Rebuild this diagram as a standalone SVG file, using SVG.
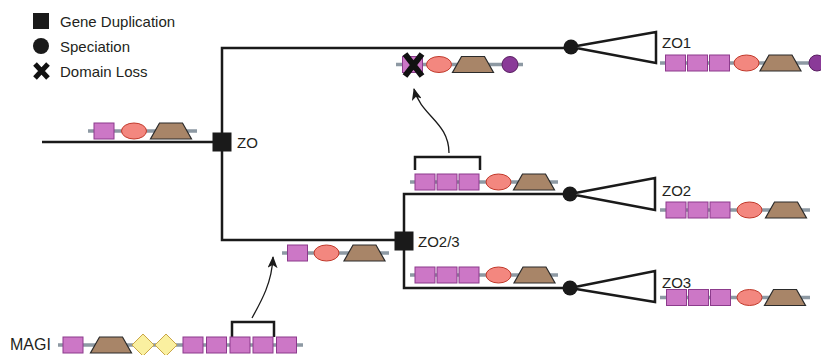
<svg xmlns="http://www.w3.org/2000/svg" xmlns:xlink="http://www.w3.org/1999/xlink" width="821" height="355" viewBox="0 0 821 355">
<style>
text{font-family:"Liberation Sans",Arial,sans-serif;font-size:15px;fill:#231f20}
.tree{fill:none;stroke:#1a1a1a;stroke-width:2.5}
.tri{fill:#fff;stroke:#1a1a1a;stroke-width:2.5;stroke-linejoin:miter}
.track{stroke:#8d99a3;stroke-width:3.5}
.brk{fill:none;stroke:#1a1a1a;stroke-width:2.5}
.arr{fill:none;stroke:#1a1a1a;stroke-width:1.3}
.xm{stroke:#111;stroke-width:5;stroke-linecap:butt}
</style>
<defs>
<rect id="dbox" x="-10" y="-8" width="20" height="16" fill="#cc77c6" stroke="#8c3b8c" stroke-width="1"/>
<ellipse id="dell" rx="12.5" ry="8" fill="#f3877f" stroke="#c0392b" stroke-width="1"/>
<polygon id="dtrap" points="-20.5,8 20.5,8 11.5,-8 -11.5,-8" fill="#a88568" stroke="#2b2b2b" stroke-width="1.2"/>
<circle id="dcirc" r="8" fill="#8a3a98" stroke="#5a1f62" stroke-width="1"/>
<polygon id="ddia" points="0,-11 11,0 0,11 -11,0" fill="#faf0a0" stroke="#c9a648" stroke-width="1"/>
<marker id="ah" viewBox="0 0 12 10" refX="11" refY="5" markerWidth="12" markerHeight="10" markerUnits="userSpaceOnUse" orient="auto">
<path d="M0,0 L12,5 L0,10 L3,5 Z" fill="#1a1a1a"/>
</marker>
</defs>

<g id="legend">
<rect x="33" y="13" width="16" height="16" fill="#1a1a1a"/>
<text x="60" y="27">Gene Duplication</text>
<circle cx="41" cy="46" r="8" fill="#1a1a1a"/>
<text x="60" y="52">Speciation</text>
<path class="xm" d="M35,64 L48,78 M48,64 L35,78"/>
<text x="60" y="77">Domain Loss</text>
</g>

<g id="connectors">
<path class="tree" d="M42,142 H222"/>
<path class="tree" d="M571,48 H222 V240 H404"/>
<path class="tree" d="M569,194 H404 V288 H570"/>
<path class="arr" d="M449,153 C449,122 421,116 414,89" marker-end="url(#ah)"/>
<path class="arr" d="M252,318 C262,300 272,282 273,257" marker-end="url(#ah)"/>
</g>

<g id="ZO">
<rect x="212.5" y="132.5" width="19" height="19" fill="#1a1a1a"/>
<text x="237" y="148">ZO</text>
<line class="track" x1="88" y1="131" x2="197" y2="131"/>
<use href="#dbox" x="104" y="131"/>
<use href="#dell" x="134" y="131"/>
<use href="#dtrap" x="171" y="131"/>
</g>

<g id="ZO1-branch">
<line class="track" x1="396" y1="64.5" x2="523" y2="64.5"/>
<use href="#dbox" x="412.5" y="64.5"/>
<use href="#dell" x="439" y="64.5"/>
<use href="#dtrap" x="473" y="64.5"/>
<use href="#dcirc" x="510" y="64.5"/>
<path class="xm" d="M405,54 L422,76 M422,54 L405,76" style="stroke-width:6"/>
</g>

<g id="ZO1">
<circle cx="571" cy="47" r="7.5" fill="#1a1a1a"/>
<polygon class="tri" points="571,47 656,32 656,63"/>
<text x="662" y="48">ZO1</text>
<line class="track" x1="660" y1="63" x2="821" y2="63"/>
<use href="#dbox" x="675.5" y="63"/>
<use href="#dbox" x="697.5" y="63"/>
<use href="#dbox" x="719.5" y="63"/>
<use href="#dell" x="746.5" y="63"/>
<use href="#dtrap" x="780.5" y="63"/>
<use href="#dcirc" x="817" y="63"/>
</g>

<g id="ZO2-branch">
<path class="brk" d="M415,170 V157 H480 V170"/>
<line class="track" x1="410" y1="182" x2="558" y2="182"/>
<use href="#dbox" x="425" y="182"/>
<use href="#dbox" x="447" y="182"/>
<use href="#dbox" x="469" y="182"/>
<use href="#dell" x="498.5" y="182"/>
<use href="#dtrap" x="534" y="182"/>
</g>

<g id="ZO2">
<circle cx="570" cy="194" r="7.5" fill="#1a1a1a"/>
<polygon class="tri" points="570,194 655,178 655,210"/>
<text x="662" y="196">ZO2</text>
<line class="track" x1="660" y1="210" x2="810" y2="210"/>
<use href="#dbox" x="676" y="210"/>
<use href="#dbox" x="698" y="210"/>
<use href="#dbox" x="720" y="210"/>
<use href="#dell" x="749.5" y="210"/>
<use href="#dtrap" x="786" y="210"/>
</g>

<g id="ZO2-3">
<rect x="394.5" y="231.5" width="19" height="19" fill="#1a1a1a"/>
<text x="418" y="247">ZO2/3</text>
<line class="track" x1="282" y1="253" x2="389" y2="253"/>
<use href="#dbox" x="297.5" y="253"/>
<use href="#dell" x="326.5" y="253"/>
<use href="#dtrap" x="364.5" y="253"/>
</g>

<g id="ZO3-branch">
<line class="track" x1="410" y1="275" x2="558" y2="275"/>
<use href="#dbox" x="425" y="275"/>
<use href="#dbox" x="447" y="275"/>
<use href="#dbox" x="469" y="275"/>
<use href="#dell" x="498.5" y="275"/>
<use href="#dtrap" x="534.5" y="275"/>
</g>

<g id="ZO3">
<circle cx="570" cy="288" r="7.5" fill="#1a1a1a"/>
<polygon class="tri" points="570,288 655,271 655,302"/>
<text x="662" y="288">ZO3</text>
<line class="track" x1="660" y1="297.5" x2="810" y2="297.5"/>
<use href="#dbox" x="676.5" y="297.5"/>
<use href="#dbox" x="698.5" y="297.5"/>
<use href="#dbox" x="720.5" y="297.5"/>
<use href="#dell" x="749.5" y="297.5"/>
<use href="#dtrap" x="785" y="297.5"/>
</g>

<g id="MAGI">
<text x="10" y="350" style="font-size:16px">MAGI</text>
<path class="brk" d="M232,337 V322 H274 V337"/>
<line class="track" x1="58" y1="345" x2="303" y2="345"/>
<use href="#dbox" x="73" y="345"/>
<use href="#dtrap" x="111" y="345"/>
<use href="#ddia" x="143" y="345"/>
<use href="#ddia" x="166" y="345"/>
<use href="#dbox" x="193" y="345"/>
<use href="#dbox" x="216.5" y="345"/>
<use href="#dbox" x="240" y="345"/>
<use href="#dbox" x="263" y="345"/>
<use href="#dbox" x="286.5" y="345"/>
</g>
</svg>
